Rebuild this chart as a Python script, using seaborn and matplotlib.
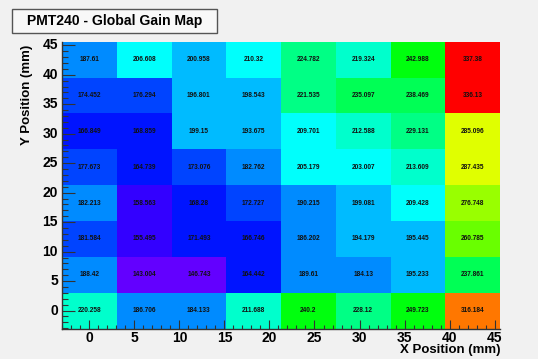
import colorsys
import numpy as np
import pandas as pd
import matplotlib
matplotlib.use("Agg")
import matplotlib.pyplot as plt
from matplotlib.colors import ListedColormap, Normalize
from matplotlib.patches import Rectangle
from matplotlib.ticker import FixedLocator, FixedFormatter
import seaborn as sns

# Gain per anode, rows listed from the top of the map (Y ~ 42.6 mm) down to Y = 0
x_centers_mm = [0, 6.08, 12.16, 18.24, 24.32, 30.40, 36.48, 42.56]
y_centers_mm = [42.56, 36.48, 30.40, 24.32, 18.24, 12.16, 6.08, 0]
gain_rows = [
    [187.61, 206.608, 200.958, 210.32, 224.782, 219.324, 242.988, 337.38],
    [174.452, 176.294, 196.801, 198.543, 221.535, 235.097, 238.469, 336.13],
    [166.849, 168.859, 199.15, 193.675, 209.701, 212.588, 229.131, 285.096],
    [177.673, 164.739, 173.076, 182.762, 205.179, 203.007, 213.609, 287.435],
    [182.213, 158.563, 168.28, 172.727, 190.215, 199.081, 209.428, 276.748],
    [181.584, 155.495, 171.493, 166.746, 186.202, 194.179, 195.445, 260.785],
    [188.42, 143.004, 146.743, 164.442, 189.61, 184.13, 195.233, 237.861],
    [220.258, 186.706, 184.133, 211.688, 240.2, 228.12, 249.723, 316.184],
]
major_ticks_mm = [0, 5, 10, 15, 20, 25, 30, 35, 40, 45]
minor_ticks_mm = list(range(-3, 46))

PITCH = 6.08
X_LOW = -PITCH / 2
Y_HIGH = y_centers_mm[0] + PITCH / 2

gain = pd.DataFrame(gain_rows, index=y_centers_mm, columns=x_centers_mm)

# ROOT-style "pretty" palette: 50 HLS hues from violet to red, sampled on 20 contour levels
n_pal, n_lev = 50, 20
palette = []
for k in range(n_lev):
    idx = int((k + 0.99) * n_pal / n_lev)
    hue = 280 - (idx + 1) * (280 / n_pal)
    palette.append(colorsys.hls_to_rgb(hue / 360.0, 0.5, 1.0))
cmap = ListedColormap(palette)
norm = Normalize(vmin=float(np.min(gain_rows)), vmax=float(np.max(gain_rows)))

bg = "#f1f1f1"
fig = plt.figure(figsize=(5.38, 3.59), dpi=100, facecolor=bg)
ax = fig.add_axes([62 / 538, 1 - 328.5 / 359, 438 / 538, (328.5 - 41.7) / 359])

sns.heatmap(gain, ax=ax, cmap=cmap, norm=norm, cbar=False, annot=True, fmt="g",
            annot_kws={"color": "#111111", "fontsize": 4.7, "fontweight": "bold",
                       "family": "Liberation Sans"},
            linewidths=0)

# Numeric mm axes on top of the heatmap's cell coordinates
to_col = lambda v: (v - X_LOW) / PITCH
to_row = lambda v: (Y_HIGH - v) / PITCH
ax.xaxis.set_major_locator(FixedLocator([to_col(v) for v in major_ticks_mm]))
ax.xaxis.set_major_formatter(FixedFormatter([str(v) for v in major_ticks_mm]))
ax.xaxis.set_minor_locator(FixedLocator([to_col(v) for v in minor_ticks_mm]))
ax.yaxis.set_major_locator(FixedLocator([to_row(v) for v in major_ticks_mm]))
ax.yaxis.set_major_formatter(FixedFormatter([str(v) for v in major_ticks_mm]))
ax.yaxis.set_minor_locator(FixedLocator([to_row(v) for v in minor_ticks_mm]))

lab_font = dict(family="Liberation Sans", fontweight="bold")
ax.tick_params(axis="x", which="major", direction="in", length=6.5, width=0.8,
               color="#333333", pad=2, labelsize=10, labelrotation=0)
ax.tick_params(axis="x", which="minor", direction="in", length=3.2, width=0.8, color="#333333")
ax.tick_params(axis="y", which="major", direction="in", length=9.5, width=0.8,
               color="#333333", pad=3, labelsize=10, labelrotation=0)
ax.tick_params(axis="y", which="minor", direction="in", length=4.5, width=0.8, color="#333333")
for lab in ax.get_xticklabels() + ax.get_yticklabels():
    lab.set_fontfamily("Liberation Sans")
    lab.set_fontweight("bold")
ax.set_xlabel("")
ax.set_ylabel("")

for side in ["left", "bottom"]:
    ax.spines[side].set_visible(True)
    ax.spines[side].set_color("#333333")
    ax.spines[side].set_linewidth(1.0)

fig.text(500 / 538, 1 - 350.5 / 359, "X Position (mm)", ha="right", va="center",
         fontsize=9.5, **lab_font)
fig.text(27 / 538, 1 - 45 / 359, "Y Position (mm)", ha="center", va="top",
         rotation=90, fontsize=9.5, **lab_font)

# Title pave
fig.patches.append(Rectangle((12 / 538, 1 - 33 / 359), 205 / 538, 24 / 359,
                             transform=fig.transFigure, facecolor="#f8f8f8",
                             edgecolor="#555555", linewidth=1.0))
fig.text(114.5 / 538, 1 - 21 / 359, "PMT240 - Global Gain Map", ha="center",
         va="center", fontsize=10.1, **lab_font)

fig.savefig("out.png", dpi=100, facecolor=bg)
